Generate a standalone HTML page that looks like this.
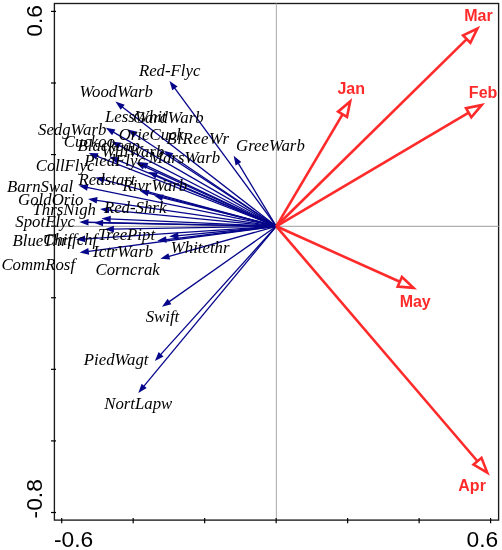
<!DOCTYPE html>
<html><head><meta charset="utf-8"><style>
html,body{margin:0;padding:0;background:#fff;width:502px;height:550px;overflow:hidden}
svg{display:block;will-change:transform}
text{font-family:"Liberation Serif",serif;font-style:italic;font-size:16.8px;fill:#000}
text.r{font-family:"Liberation Sans",sans-serif;font-style:normal;font-weight:bold;font-size:16px;fill:#ff2a2a;text-anchor:middle}
text.a{font-family:"Liberation Sans",sans-serif;font-style:normal;font-size:22.8px;fill:#000}
</style></head><body>
<svg width="502" height="550" viewBox="0 0 502 550">
<rect width="502" height="550" fill="#fff"/>
<rect x="54.4" y="3.5" width="444.2" height="516.6" fill="none" stroke="#1a1a1a" stroke-width="1.35"/>
<line x1="54.4" y1="226.4" x2="498.6" y2="226.4" stroke="#b0b0b0" stroke-width="1.1"/>
<line x1="276.4" y1="3.5" x2="276.4" y2="520.1" stroke="#b0b0b0" stroke-width="1.1"/>
<line x1="51" y1="11.40" x2="56" y2="11.40" stroke="#000" stroke-width="1.2"/>
<line x1="51" y1="82.99" x2="56" y2="82.99" stroke="#000" stroke-width="1.2"/>
<line x1="51" y1="154.57" x2="56" y2="154.57" stroke="#000" stroke-width="1.2"/>
<line x1="51" y1="226.16" x2="56" y2="226.16" stroke="#000" stroke-width="1.2"/>
<line x1="51" y1="297.74" x2="56" y2="297.74" stroke="#000" stroke-width="1.2"/>
<line x1="51" y1="369.33" x2="56" y2="369.33" stroke="#000" stroke-width="1.2"/>
<line x1="51" y1="440.91" x2="56" y2="440.91" stroke="#000" stroke-width="1.2"/>
<line x1="51" y1="512.50" x2="56" y2="512.50" stroke="#000" stroke-width="1.2"/>
<line x1="61.70" y1="518" x2="61.70" y2="523.3" stroke="#000" stroke-width="1.2"/>
<line x1="133.18" y1="518" x2="133.18" y2="523.3" stroke="#000" stroke-width="1.2"/>
<line x1="204.67" y1="518" x2="204.67" y2="523.3" stroke="#000" stroke-width="1.2"/>
<line x1="276.15" y1="518" x2="276.15" y2="523.3" stroke="#000" stroke-width="1.2"/>
<line x1="347.63" y1="518" x2="347.63" y2="523.3" stroke="#000" stroke-width="1.2"/>
<line x1="419.12" y1="518" x2="419.12" y2="523.3" stroke="#000" stroke-width="1.2"/>
<line x1="490.60" y1="518" x2="490.60" y2="523.3" stroke="#000" stroke-width="1.2"/>
<text x="54.0" y="547.1" class="a">-0.6</text>
<text x="498.2" y="546.9" class="a" text-anchor="end">0.6</text>
<text transform="translate(41.6,5.0) rotate(-90)" class="a" text-anchor="end">0.6</text>
<text transform="translate(41.6,518.4) rotate(-90)" class="a" text-anchor="start">-0.8</text>
<line x1="276.3" y1="226.3" x2="173.76" y2="86.80" stroke="#06068a" stroke-width="1.3"/><polygon points="169.50,81.00 177.61,86.46 172.29,90.37" fill="#06068a"/>
<line x1="276.3" y1="226.3" x2="121.09" y2="106.01" stroke="#06068a" stroke-width="1.3"/><polygon points="115.40,101.60 124.69,104.63 120.65,109.84" fill="#06068a"/>
<line x1="276.3" y1="226.3" x2="112.03" y2="131.40" stroke="#06068a" stroke-width="1.3"/><polygon points="105.80,127.80 115.42,129.54 112.12,135.26" fill="#06068a"/>
<line x1="276.3" y1="226.3" x2="133.83" y2="133.53" stroke="#06068a" stroke-width="1.3"/><polygon points="127.80,129.60 137.31,131.85 133.71,137.39" fill="#06068a"/>
<line x1="276.3" y1="226.3" x2="118.00" y2="144.89" stroke="#06068a" stroke-width="1.3"/><polygon points="111.60,141.60 121.29,142.87 118.27,148.74" fill="#06068a"/>
<line x1="276.3" y1="226.3" x2="95.41" y2="155.72" stroke="#06068a" stroke-width="1.3"/><polygon points="88.70,153.10 98.47,153.37 96.07,159.52" fill="#06068a"/>
<line x1="276.3" y1="226.3" x2="102.25" y2="179.37" stroke="#06068a" stroke-width="1.3"/><polygon points="95.30,177.50 105.04,176.71 103.32,183.08" fill="#06068a"/>
<line x1="276.3" y1="226.3" x2="85.75" y2="187.05" stroke="#06068a" stroke-width="1.3"/><polygon points="78.70,185.60 88.38,184.22 87.05,190.69" fill="#06068a"/>
<line x1="276.3" y1="226.3" x2="95.13" y2="200.03" stroke="#06068a" stroke-width="1.3"/><polygon points="88.00,199.00 97.58,197.05 96.63,203.59" fill="#06068a"/>
<line x1="276.3" y1="226.3" x2="107.17" y2="209.80" stroke="#06068a" stroke-width="1.3"/><polygon points="100.00,209.10 109.48,206.71 108.84,213.28" fill="#06068a"/>
<line x1="276.3" y1="226.3" x2="86.50" y2="222.25" stroke="#06068a" stroke-width="1.3"/><polygon points="79.30,222.10 88.57,219.00 88.43,225.60" fill="#06068a"/>
<line x1="276.3" y1="226.3" x2="101.10" y2="222.94" stroke="#06068a" stroke-width="1.3"/><polygon points="93.90,222.80 103.16,219.68 103.03,226.28" fill="#06068a"/>
<line x1="276.3" y1="226.3" x2="108.69" y2="218.92" stroke="#06068a" stroke-width="1.3"/><polygon points="101.50,218.60 110.84,215.71 110.55,222.30" fill="#06068a"/>
<line x1="276.3" y1="226.3" x2="111.90" y2="229.17" stroke="#06068a" stroke-width="1.3"/><polygon points="104.70,229.30 113.84,225.84 113.96,232.44" fill="#06068a"/>
<line x1="276.3" y1="226.3" x2="83.18" y2="239.03" stroke="#06068a" stroke-width="1.3"/><polygon points="76.00,239.50 84.96,235.60 85.40,242.19" fill="#06068a"/>
<line x1="276.3" y1="226.3" x2="86.74" y2="251.65" stroke="#06068a" stroke-width="1.3"/><polygon points="79.60,252.60 88.28,248.11 89.16,254.65" fill="#06068a"/>
<line x1="276.3" y1="226.3" x2="164.45" y2="239.84" stroke="#06068a" stroke-width="1.3"/><polygon points="157.30,240.70 166.04,236.32 166.83,242.87" fill="#06068a"/>
<line x1="276.3" y1="226.3" x2="176.37" y2="235.82" stroke="#06068a" stroke-width="1.3"/><polygon points="169.20,236.50 178.05,232.34 178.67,238.91" fill="#06068a"/>
<line x1="276.3" y1="226.3" x2="167.33" y2="256.86" stroke="#06068a" stroke-width="1.3"/><polygon points="160.40,258.80 168.37,253.14 170.15,259.49" fill="#06068a"/>
<line x1="276.3" y1="226.3" x2="237.42" y2="161.96" stroke="#06068a" stroke-width="1.3"/><polygon points="233.70,155.80 241.28,161.97 235.63,165.38" fill="#06068a"/>
<line x1="276.3" y1="226.3" x2="167.89" y2="302.65" stroke="#06068a" stroke-width="1.3"/><polygon points="162.00,306.80 167.62,298.80 171.42,304.20" fill="#06068a"/>
<line x1="276.3" y1="226.3" x2="159.72" y2="355.65" stroke="#06068a" stroke-width="1.3"/><polygon points="154.90,361.00 158.61,351.96 163.51,356.38" fill="#06068a"/>
<line x1="276.3" y1="226.3" x2="142.89" y2="387.45" stroke="#06068a" stroke-width="1.3"/><polygon points="138.30,393.00 141.62,383.81 146.71,388.02" fill="#06068a"/>
<line x1="276.3" y1="226.3" x2="169.88" y2="154.81" stroke="#06068a" stroke-width="1.3"/><polygon points="163.90,150.80 173.38,153.19 169.70,158.67" fill="#06068a"/>
<line x1="276.3" y1="226.3" x2="142.46" y2="165.57" stroke="#06068a" stroke-width="1.3"/><polygon points="135.90,162.60 145.64,163.40 142.91,169.41" fill="#06068a"/>
<line x1="276.3" y1="226.3" x2="154.83" y2="174.71" stroke="#06068a" stroke-width="1.3"/><polygon points="148.20,171.90 157.96,172.46 155.38,178.53" fill="#06068a"/>
<line x1="276.3" y1="226.3" x2="146.57" y2="192.61" stroke="#06068a" stroke-width="1.3"/><polygon points="139.60,190.80 149.33,189.92 147.68,196.31" fill="#06068a"/>
<line x1="276.3" y1="226.3" x2="160.88" y2="197.26" stroke="#06068a" stroke-width="1.3"/><polygon points="153.90,195.50 163.63,194.54 162.02,200.95" fill="#06068a"/>
<line x1="276.3" y1="226.3" x2="115.95" y2="159.47" stroke="#06068a" stroke-width="1.3"/><polygon points="109.30,156.70 119.06,157.19 116.52,163.29" fill="#06068a"/>
<line x1="276.3" y1="226.3" x2="145.22" y2="165.14" stroke="#06068a" stroke-width="1.3"/><polygon points="138.70,162.10 148.43,163.00 145.64,168.98" fill="#06068a"/>
<line x1="276.3" y1="226.3" x2="466.74" y2="39.06" stroke="#ff2a2a" stroke-width="2.6"/><polygon points="477.43,28.54 470.38,42.77 463.09,35.35" fill="#fff" stroke="#ff2a2a" stroke-width="2.6" stroke-linejoin="miter" stroke-miterlimit="10"/>
<line x1="276.3" y1="226.3" x2="468.69" y2="112.74" stroke="#ff2a2a" stroke-width="2.6"/><polygon points="481.61,105.12 471.33,117.22 466.04,108.26" fill="#fff" stroke="#ff2a2a" stroke-width="2.6" stroke-linejoin="miter" stroke-miterlimit="10"/>
<line x1="276.3" y1="226.3" x2="342.54" y2="114.30" stroke="#ff2a2a" stroke-width="2.6"/><polygon points="350.18,101.39 347.02,116.95 338.07,111.66" fill="#fff" stroke="#ff2a2a" stroke-width="2.6" stroke-linejoin="miter" stroke-miterlimit="10"/>
<line x1="276.3" y1="226.3" x2="399.81" y2="281.75" stroke="#ff2a2a" stroke-width="2.6"/><polygon points="413.49,287.90 397.68,286.50 401.94,277.01" fill="#fff" stroke="#ff2a2a" stroke-width="2.6" stroke-linejoin="miter" stroke-miterlimit="10"/>
<line x1="276.3" y1="226.3" x2="477.51" y2="461.24" stroke="#ff2a2a" stroke-width="2.6"/><polygon points="487.27,472.63 473.56,464.62 481.46,457.85" fill="#fff" stroke="#ff2a2a" stroke-width="2.6" stroke-linejoin="miter" stroke-miterlimit="10"/>
<text x="478.5" y="21.3" class="r" text-anchor="middle">Mar</text>
<text x="483.1" y="98.2" class="r" text-anchor="middle">Feb</text>
<text x="351.2" y="93.8" class="r" text-anchor="middle">Jan</text>
<text x="415.2" y="306.6" class="r" text-anchor="middle">May</text>
<text x="472.1" y="491.4" class="r" text-anchor="middle">Apr</text>
<text x="138.9" y="75.9">Red-Flyc</text>
<text x="79.6" y="96.5">WoodWarb</text>
<text x="105.0" y="122.0">LessWhit</text>
<text x="133.0" y="123.0">GardWarb</text>
<text x="38.0" y="134.9">SedgWarb</text>
<text x="118.7" y="139.5">OrieCuck</text>
<text x="166.6" y="143.6" textLength="62.5" lengthAdjust="spacing">BlReeWr</text>
<text x="236.1" y="151.0">GreeWarb</text>
<text x="63.8" y="147.2">Cuckoo</text>
<text x="77.5" y="151.3">Blackcap</text>
<text x="101.5" y="157.0">WillWarb</text>
<text x="84.3" y="166.2">PiedFlyc</text>
<text x="149.0" y="163.2">MarsWarb</text>
<text x="35.7" y="171.0">CollFlyc</text>
<text x="78.6" y="184.7">Redstart</text>
<text x="122.5" y="190.8">RivrWarb</text>
<text x="7.0" y="191.6">BarnSwal</text>
<text x="18.1" y="205.2">GoldOrio</text>
<text x="32.5" y="215.0">ThrsNigh</text>
<text x="103.9" y="213.0">Red-Shrk</text>
<text x="15.3" y="226.9">SpotFlyc</text>
<text x="12.5" y="246.2">BlueThrt</text>
<text x="43.2" y="245.0">Chiffchf</text>
<text x="97.9" y="239.5">TreePipt</text>
<text x="93.1" y="257.3">IctrWarb</text>
<text x="170.8" y="252.5">Whitethr</text>
<text x="1.4" y="269.6">CommRosf</text>
<text x="95.5" y="274.7">Corncrak</text>
<text x="145.7" y="322.0">Swift</text>
<text x="83.8" y="364.8">PiedWagt</text>
<text x="104.2" y="408.8">NortLapw</text>
</svg>
</body></html>
